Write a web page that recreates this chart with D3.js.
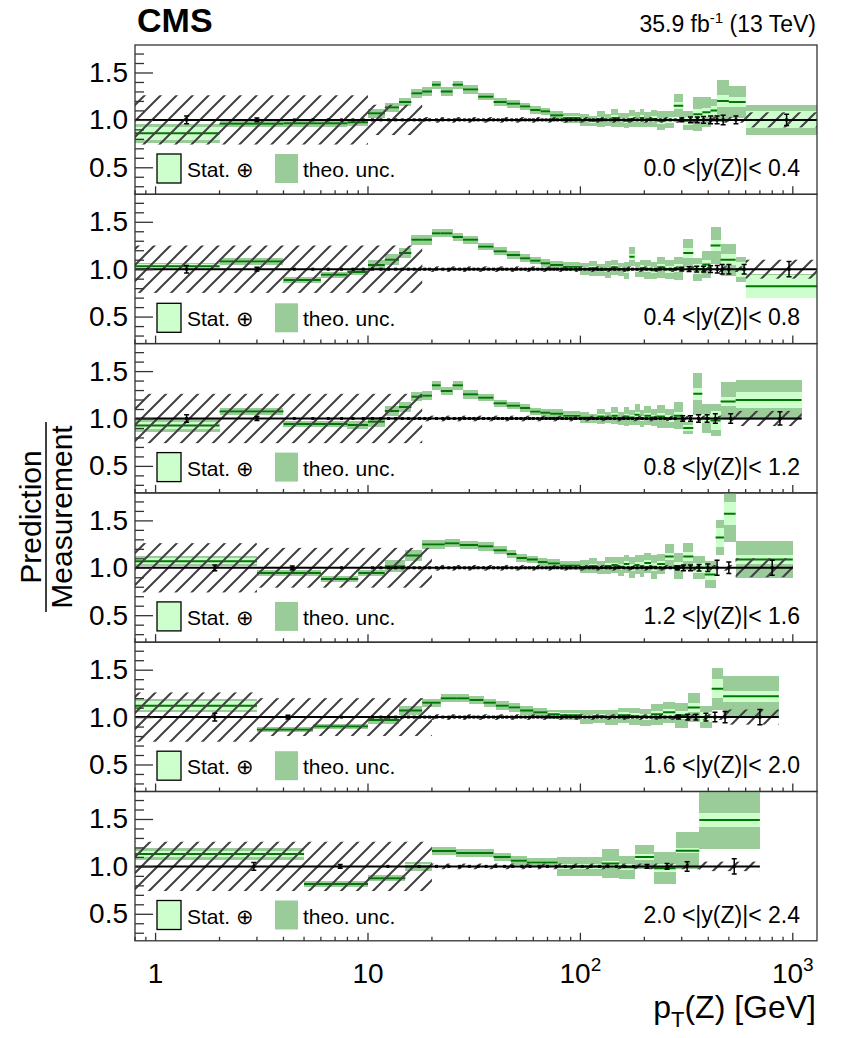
<!DOCTYPE html>
<html>
<head>
<meta charset="utf-8">
<script src="https://cdn.jsdelivr.net/npm/d3@7"></script>
<style>
body { margin: 0; background: #fff; }
svg { font-family: "Liberation Sans", Arial, Helvetica, sans-serif; }
</style>
</head>
<body>
<svg id="chart" width="849" height="1038"></svg>
<script>
// rapidity bins
var rapLabels = ["0.0 <|y(Z)|< 0.4", "0.4 <|y(Z)|< 0.8", "0.8 <|y(Z)|< 1.2",
                 "1.2 <|y(Z)|< 1.6", "1.6 <|y(Z)|< 2.0", "2.0 <|y(Z)|< 2.4"];
var ptMax = [1300, 1300, 1100, 1000, 860, 700];

// theory / measurement ratio, bin edges in GeV
var thEdges1 = [0.8, 2, 4, 8, 10, 12, 14, 16, 18, 20, 22, 25, 28, 33, 39, 45, 52, 58, 65, 72, 83, 100, 110, 120, 130, 140, 150, 160, 170, 180, 190, 200, 215, 230, 250, 275, 305, 340, 375, 410, 440, 500, 600, 1300];
var thVal1 = [0.86, 0.96, 0.965, 0.975, 1.07, 1.13, 1.19, 1.28, 1.30, 1.37,
              1.30, 1.37, 1.32, 1.245, 1.19, 1.17, 1.14, 1.105, 1.09, 1.05,
              1.02, 1.0, 0.99, 1.01, 1.0, 1.02, 1.0, 0.99, 1.01, 1.0,
              1.02, 1.0, 1.01, 0.99, 1.0, 1.15, 0.99, 1.06, 1.08, 1.1,
              1.2, 1.19, 1.0];
var thTot1 = [0.1, 0.035, 0.035, 0.035, 0.045, 0.045, 0.045, 0.045, 0.045, 0.045,
              0.045, 0.045, 0.045, 0.04, 0.04, 0.04, 0.04, 0.04, 0.04, 0.045,
              0.05, 0.06, 0.05, 0.08, 0.06, 0.09, 0.07, 0.08, 0.09, 0.08,
              0.1, 0.08, 0.09, 0.1, 0.09, 0.12, 0.1, 0.18, 0.16, 0.12,
              0.22, 0.17, 0.16];
var thStat1 = [0.07, 0.01, 0.01, 0.01, 0.01, 0.01, 0.01, 0.01, 0.01, 0.01,
               0.01, 0.01, 0.01, 0.01, 0.01, 0.01, 0.01, 0.01, 0.01, 0.01,
               0.02, 0.02, 0.02, 0.025, 0.02, 0.03, 0.02, 0.025, 0.03, 0.025,
               0.03, 0.025, 0.03, 0.03, 0.03, 0.04, 0.04, 0.05, 0.05, 0.05,
               0.06, 0.05, 0.09];

var thEdges2 = [0.8, 2, 4, 6, 8, 10, 12, 14, 16, 18, 20, 22, 25, 28, 33, 39, 45, 52, 58, 65, 72, 83, 100, 110, 120, 130, 140, 150, 160, 170, 180, 190, 200, 215, 230, 250, 275, 305, 340, 375, 410, 457, 538, 600, 1300];
var thVal2 = [1.03, 1.08, 0.887, 0.94, 0.97, 1.045, 1.10, 1.17, 1.31, 1.31,
              1.38, 1.38, 1.34, 1.31, 1.24, 1.19, 1.15, 1.115, 1.09, 1.063,
              1.045, 1.027, 1.0, 1.01, 0.99, 1.0, 1.02, 1.0, 0.99, 1.13,
              1.0, 1.01, 1.0, 0.99, 1.02, 1.0, 1.01, 1.17, 1.0, 1.05,
              1.25, 1.1, 1.0, 0.82];
var thTot2 = [0.035, 0.035, 0.03, 0.03, 0.035, 0.05, 0.06, 0.05, 0.05, 0.05,
              0.045, 0.045, 0.045, 0.045, 0.04, 0.04, 0.04, 0.04, 0.04, 0.04,
              0.045, 0.05, 0.06, 0.08, 0.06, 0.09, 0.08, 0.07, 0.09, 0.1,
              0.08, 0.09, 0.1, 0.09, 0.11, 0.1, 0.12, 0.15, 0.12, 0.14,
              0.2, 0.17, 0.13, 0.125];
var thStat2 = [0.025, 0.01, 0.01, 0.01, 0.01, 0.01, 0.01, 0.01, 0.01, 0.01,
               0.01, 0.01, 0.01, 0.01, 0.01, 0.01, 0.01, 0.01, 0.01, 0.01,
               0.01, 0.015, 0.02, 0.02, 0.02, 0.025, 0.02, 0.02, 0.025, 0.03,
               0.025, 0.03, 0.03, 0.03, 0.035, 0.035, 0.04, 0.05, 0.05, 0.05,
               0.06, 0.06, 0.08, 0.12];

var thEdges3 = [0.8, 2, 4, 8, 10, 12, 14, 16, 18, 20, 22, 25, 28, 33, 39, 45, 52, 58, 65, 72, 83, 100, 110, 120, 130, 140, 150, 160, 170, 180, 190, 200, 215, 230, 250, 275, 305, 340, 375, 410, 457, 538, 1100];
var thVal3 = [0.925, 1.073, 0.943, 0.93, 0.965, 1.08, 1.12, 1.23, 1.24, 1.35,
              1.29, 1.35, 1.255, 1.22, 1.16, 1.135, 1.11, 1.075, 1.06, 1.05,
              1.03, 1.01, 1.0, 1.02, 1.01, 1.03, 1.0, 1.02, 1.01, 1.04,
              1.0, 1.03, 1.01, 1.02, 1.0, 1.03, 0.9, 1.26, 1.0, 0.98,
              1.18, 1.195];
var thTot3 = [0.065, 0.04, 0.03, 0.04, 0.05, 0.05, 0.05, 0.045, 0.045, 0.045,
              0.045, 0.045, 0.045, 0.04, 0.04, 0.04, 0.04, 0.04, 0.04, 0.045,
              0.05, 0.06, 0.05, 0.08, 0.06, 0.09, 0.07, 0.1, 0.08, 0.11,
              0.09, 0.1, 0.09, 0.12, 0.1, 0.14, 0.06, 0.22, 0.15, 0.17,
              0.2, 0.21];
var thStat3 = [0.04, 0.01, 0.01, 0.01, 0.01, 0.01, 0.01, 0.01, 0.01, 0.01,
               0.01, 0.01, 0.01, 0.01, 0.01, 0.01, 0.01, 0.01, 0.01, 0.01,
               0.02, 0.02, 0.02, 0.025, 0.02, 0.03, 0.02, 0.03, 0.025, 0.03,
               0.03, 0.03, 0.03, 0.035, 0.035, 0.04, 0.03, 0.06, 0.05, 0.1,
               0.05, 0.08];

var thEdges4 = [0.8, 3, 6, 9, 12, 15, 18, 23, 27, 33, 39, 45, 50, 56, 63, 70, 80, 100, 110, 120, 130, 140, 150, 160, 170, 180, 190, 200, 215, 230, 250, 275, 305, 340, 385, 433, 474, 538, 1000];
var thVal4 = [1.07, 0.946, 0.883, 0.946, 1.017, 1.13, 1.245, 1.26, 1.24, 1.227,
              1.185, 1.146, 1.104, 1.087, 1.062, 1.044, 1.023, 1.01, 1.02, 1.0,
              1.02, 1.03, 1.01, 1.04, 1.0, 1.03, 1.02, 1.05, 1.01, 1.04,
              1.12, 1.02, 1.12, 1.0, 0.93, 1.32, 1.57, 1.087];
var thTot4 = [0.05, 0.03, 0.035, 0.035, 0.06, 0.06, 0.05, 0.045, 0.045, 0.045,
              0.04, 0.04, 0.04, 0.04, 0.04, 0.045, 0.045, 0.07, 0.08, 0.07,
              0.09, 0.08, 0.1, 0.09, 0.11, 0.1, 0.12, 0.11, 0.13, 0.11,
              0.13, 0.14, 0.14, 0.12, 0.14, 0.18, 0.3, 0.2];
var thStat4 = [0.03, 0.01, 0.01, 0.01, 0.01, 0.01, 0.01, 0.01, 0.01, 0.01,
               0.01, 0.01, 0.01, 0.01, 0.01, 0.01, 0.015, 0.02, 0.025, 0.02,
               0.03, 0.025, 0.03, 0.03, 0.035, 0.03, 0.04, 0.035, 0.04, 0.035,
               0.04, 0.045, 0.05, 0.05, 0.06, 0.1, 0.12, 0.05];

var thEdges5 = [0.8, 3, 5.5, 10, 14, 18, 22, 26, 30, 35, 40, 46, 52, 60, 70, 80, 100, 115, 130, 150, 170, 190, 215, 245, 280, 320, 365, 415, 470, 860];
var thVal5 = [1.12, 0.87, 0.9, 0.97, 1.07, 1.15, 1.2, 1.2, 1.18, 1.15,
              1.12, 1.1, 1.07, 1.05, 1.03, 1.02, 1.0, 1.01, 1.0, 1.02,
              1.01, 1.0, 1.03, 1.05, 1.02, 1.1, 1.0, 1.3, 1.22];
var thTot5 = [0.07, 0.03, 0.03, 0.04, 0.05, 0.045, 0.045, 0.045, 0.045, 0.045,
              0.045, 0.045, 0.045, 0.045, 0.05, 0.055, 0.07, 0.07, 0.08, 0.08,
              0.09, 0.09, 0.11, 0.11, 0.13, 0.15, 0.12, 0.22, 0.21];
var thStat5 = [0.05, 0.01, 0.01, 0.01, 0.01, 0.01, 0.01, 0.01, 0.01, 0.01,
               0.01, 0.01, 0.01, 0.01, 0.02, 0.02, 0.02, 0.025, 0.025, 0.03,
               0.03, 0.03, 0.035, 0.04, 0.04, 0.05, 0.05, 0.1, 0.06];

var thEdges6 = [0.8, 5, 10, 15, 20, 26, 39, 47, 56, 78, 126, 152, 181, 222, 281, 363, 700];
var thVal6 = [1.13, 0.815, 0.876, 1.0, 1.163, 1.14, 1.10, 1.06, 1.04, 1.0,
              1.03, 0.99, 1.1, 0.98, 1.166, 1.49];
var thTot6 = [0.06, 0.03, 0.035, 0.045, 0.04, 0.04, 0.045, 0.045, 0.05, 0.1,
              0.15, 0.12, 0.13, 0.17, 0.195, 0.31];
var thStat6 = [0.035, 0.01, 0.01, 0.02, 0.01, 0.01, 0.01, 0.01, 0.02, 0.03,
               0.03, 0.03, 0.03, 0.04, 0.025, 0.075];

// measurement uncertainty (hatched), bin edges and half widths
var hatchEdges1 = [0.8, 10, 18, 600, 1300], hatchHalf1 = [0.26, 0.16, 0.03, 0.08];
var hatchEdges2 = [0.8, 18, 600, 1300], hatchHalf2 = [0.25, 0.03, 0.1];
var hatchEdges3 = [0.8, 18, 538, 1100], hatchHalf3 = [0.26, 0.03, 0.08];
var hatchEdges4 = [0.8, 3, 20, 538, 1000], hatchHalf4 = [0.26, 0.21, 0.03, 0.1];
var hatchEdges5 = [0.8, 3, 20, 470, 860], hatchHalf5 = [0.26, 0.2, 0.03, 0.08];
var hatchEdges6 = [0.8, 20, 363, 700], hatchHalf6 = [0.26, 0.03, 0.05];

// measured points (ratio 1 by construction), pT positions and stat errors
var measLow1 = [1.4, 3, 4.5, 5.5, 6.5, 7.5, 8.5, 9.5], measLowErr1 = [0.04, 0.02, 0.01, 0.01, 0.01, 0.01, 0.01, 0.01];
var measLow2 = [1.4, 3, 4.5, 5.5, 6.5, 7.5, 8.5, 9.5], measLowErr2 = [0.04, 0.02, 0.01, 0.01, 0.01, 0.01, 0.01, 0.01];
var measLow3 = [1.4, 3, 4.5, 5.5, 6.5, 7.5, 8.5, 9.5], measLowErr3 = [0.04, 0.02, 0.01, 0.01, 0.01, 0.01, 0.01, 0.01];
var measLow4 = [1.9, 4.4, 7.5], measLowErr4 = [0.03, 0.02, 0.01];
var measLow5 = [1.9, 4.2, 7.5], measLowErr5 = [0.04, 0.02, 0.01];
var measLow6 = [2.9, 7.4, 12.4, 17.4], measLowErr6 = [0.04, 0.02, 0.01, 0.01];
var measMid = [10.5, 11.5, 12.5, 13.5, 14.5, 15.5, 16.5, 17.5, 18.5, 19.5, 21, 22.5, 24, 25.5, 27, 28.5, 30, 31.5, 33, 35, 37, 39, 41, 43, 45, 47.5, 50, 52.5, 55, 57.5, 60, 63, 66, 69, 72, 75, 78, 82, 86, 90, 95, 100, 105, 110, 115, 120, 126, 132, 138, 145, 152, 160, 168, 176, 185, 195, 205, 215, 226, 238, 250, 265, 280];
var measMid6 = [21, 24, 27, 30, 33, 36, 40, 44, 48, 53, 58, 64, 70, 77, 85, 93, 102, 112, 123, 135, 148, 162, 178];
var midErr = 0.008;
var measHi1 = [300, 330, 355, 380, 410, 440, 470, 540, 935], measHiErr1 = [0.02, 0.03, 0.03, 0.035, 0.04, 0.04, 0.05, 0.04, 0.06];
var measHi2 = [300, 325, 353, 380, 410, 441, 465, 500, 590, 960], measHiErr2 = [0.02, 0.025, 0.03, 0.03, 0.035, 0.04, 0.05, 0.05, 0.05, 0.08];
var measHi3 = [303, 330, 360, 395, 432, 510, 870], measHiErr3 = [0.03, 0.03, 0.04, 0.04, 0.05, 0.05, 0.07];
var measHi4 = [286, 306, 330, 362, 398, 440, 500, 800], measHiErr4 = [0.02, 0.03, 0.03, 0.035, 0.04, 0.08, 0.06, 0.08];
var measHi5 = [290, 320, 350, 390, 430, 480, 700], measHiErr5 = [0.02, 0.03, 0.03, 0.04, 0.05, 0.06, 0.08];
var measHi6 = [206, 256, 318, 530], measHiErr6 = [0.02, 0.03, 0.05, 0.08];

var yTicksMajor = [0.5, 1.0, 1.5];
var yTicksMinor = [0.3, 0.4, 0.6, 0.7, 0.8, 0.9, 1.1, 1.2, 1.3, 1.4, 1.6, 1.7];
var xLabels = [{v: 1, base: "1", exp: ""}, {v: 10, base: "10", exp: ""},
               {v: 100, base: "10", exp: "2"}, {v: 1000, base: "10", exp: "3"}];

var panels = [
  {th: [thEdges1, thVal1, thStat1, thTot1], hatch: [hatchEdges1, hatchHalf1], low: [measLow1, measLowErr1], mid: measMid, hi: [measHi1, measHiErr1]},
  {th: [thEdges2, thVal2, thStat2, thTot2], hatch: [hatchEdges2, hatchHalf2], low: [measLow2, measLowErr2], mid: measMid, hi: [measHi2, measHiErr2]},
  {th: [thEdges3, thVal3, thStat3, thTot3], hatch: [hatchEdges3, hatchHalf3], low: [measLow3, measLowErr3], mid: measMid, hi: [measHi3, measHiErr3]},
  {th: [thEdges4, thVal4, thStat4, thTot4], hatch: [hatchEdges4, hatchHalf4], low: [measLow4, measLowErr4], mid: measMid, hi: [measHi4, measHiErr4]},
  {th: [thEdges5, thVal5, thStat5, thTot5], hatch: [hatchEdges5, hatchHalf5], low: [measLow5, measLowErr5], mid: measMid, hi: [measHi5, measHiErr5]},
  {th: [thEdges6, thVal6, thStat6, thTot6], hatch: [hatchEdges6, hatchHalf6], low: [measLow6, measLowErr6], mid: measMid6, hi: [measHi6, measHiErr6]}
];

var left = 135, right = 817, top0 = 45, panelH = 149.3;
var colTot = "#99cc99", colStat = "#ccffcc", colLine = "#007700";

var x = d3.scaleLog().domain([0.8, 1300]).range([left, right]);
var svg = d3.select("#chart");
var defs = svg.append("defs");

var pat = defs.append("pattern")
  .attr("id", "hatch")
  .attr("patternUnits", "userSpaceOnUse")
  .attr("width", 16).attr("height", 16);
pat.append("path")
  .attr("d", "M-4,4 L4,-4 M0,16 L16,0 M12,20 L20,12")
  .attr("stroke", "#404040")
  .attr("stroke-width", 2);

panels.forEach(function(p, i) { drawPanel(p, i); });

function drawPanel(p, i) {
  var top = top0 + i * panelH, bottom = top + panelH;
  var y = d3.scaleLinear().domain([0.215, 1.79]).range([bottom, top]);

  defs.append("clipPath").attr("id", "clip" + i)
    .append("rect").attr("x", left).attr("y", top)
    .attr("width", right - left).attr("height", panelH);
  var g = svg.append("g").attr("clip-path", "url(#clip" + i + ")");

  var bins = p.th[1].map(function(v, j) {
    return {x0: p.th[0][j], x1: p.th[0][j + 1], v: v, s: p.th[2][j], t: p.th[3][j]};
  });

  // stat (+) theory band
  g.selectAll(".tot").data(bins).enter().append("rect")
    .attr("class", "tot")
    .attr("x", function(d) { return x(d.x0); })
    .attr("width", function(d) { return x(d.x1) - x(d.x0); })
    .attr("y", function(d) { return y(d.v + d.t); })
    .attr("height", function(d) { return y(d.v - d.t) - y(d.v + d.t); })
    .attr("fill", colTot)
    .attr("shape-rendering", "crispEdges");

  g.selectAll(".stat").data(bins).enter().append("rect")
    .attr("class", "stat")
    .attr("x", function(d) { return x(d.x0); })
    .attr("width", function(d) { return x(d.x1) - x(d.x0); })
    .attr("y", function(d) { return y(d.v + d.s); })
    .attr("height", function(d) { return y(d.v - d.s) - y(d.v + d.s); })
    .attr("fill", colStat)
    .attr("shape-rendering", "crispEdges");

  g.selectAll(".cv").data(bins).enter().append("line")
    .attr("x1", function(d) { return x(d.x0); })
    .attr("x2", function(d) { return x(d.x1); })
    .attr("y1", function(d) { return y(d.v); })
    .attr("y2", function(d) { return y(d.v); })
    .attr("stroke", colLine)
    .attr("stroke-width", 2);

  // measurement uncertainty, hatched
  var hb = p.hatch[1].map(function(h, j) { return {x0: p.hatch[0][j], x1: p.hatch[0][j + 1], h: h}; });
  g.selectAll(".hatch").data(hb).enter().append("rect")
    .attr("x", function(d) { return x(d.x0); })
    .attr("width", function(d) { return x(d.x1) - x(d.x0); })
    .attr("y", function(d) { return y(1 + d.h); })
    .attr("height", function(d) { return y(1 - d.h) - y(1 + d.h); })
    .attr("fill", "url(#hatch)");

  g.append("line")
    .attr("x1", x(0.8)).attr("x2", x(ptMax[i]))
    .attr("y1", y(1)).attr("y2", y(1))
    .attr("stroke", "#000").attr("stroke-width", 2);

  // measured points
  var pts = [];
  p.low[0].forEach(function(v, j) { pts.push({pt: v, e: p.low[1][j]}); });
  p.mid.forEach(function(v) { pts.push({pt: v, e: midErr}); });
  p.hi[0].forEach(function(v, j) { pts.push({pt: v, e: p.hi[1][j]}); });

  var pg = g.selectAll(".pt").data(pts).enter().append("g");
  pg.append("line")
    .attr("x1", function(d) { return x(d.pt); })
    .attr("x2", function(d) { return x(d.pt); })
    .attr("y1", function(d) { return y(1 - d.e); })
    .attr("y2", function(d) { return y(1 + d.e); })
    .attr("stroke", "#000").attr("stroke-width", 1.5);
  pg.filter(function(d) { return d.e > 0.015; }).selectAll(".cap")
    .data(function(d) { return [d.e, -d.e].map(function(e) { return {pt: d.pt, e: e}; }); })
    .enter().append("line")
    .attr("x1", function(d) { return x(d.pt) - 2.5; })
    .attr("x2", function(d) { return x(d.pt) + 2.5; })
    .attr("y1", function(d) { return y(1 + d.e); })
    .attr("y2", function(d) { return y(1 + d.e); })
    .attr("stroke", "#000").attr("stroke-width", 1.5);
  pg.append("rect")
    .attr("x", function(d) { return x(d.pt) - 1.5; })
    .attr("y", y(1) - 1.5)
    .attr("width", 3).attr("height", 3)
    .attr("fill", "#000");

  // frame
  svg.append("rect")
    .attr("x", left).attr("y", top)
    .attr("width", right - left).attr("height", panelH)
    .attr("fill", "none").attr("stroke", "#333").attr("stroke-width", 1.3);

  // y axis
  var ya = svg.append("g").attr("transform", "translate(" + left + ",0)")
    .call(d3.axisLeft(y).tickValues(yTicksMajor).tickSizeInner(-18).tickSizeOuter(0)
      .tickPadding(7).tickFormat(d3.format(".1f")));
  ya.select(".domain").remove();
  ya.selectAll("line").attr("stroke", "#333").attr("stroke-width", 1.3);
  ya.selectAll("text").attr("font-size", 28).attr("fill", "#000")
    .attr("font-family", "Liberation Sans, Arial, sans-serif");
  var ym = svg.append("g").attr("transform", "translate(" + left + ",0)")
    .call(d3.axisLeft(y).tickValues(yTicksMinor).tickSizeInner(-9).tickSizeOuter(0).tickFormat(""));
  ym.select(".domain").remove();
  ym.selectAll("line").attr("stroke", "#333").attr("stroke-width", 1.3);

  // x ticks pointing up
  var xt = x.ticks().filter(function(t) { return t >= 0.8 && t <= 1300; });
  svg.append("g").selectAll("line").data(xt).enter().append("line")
    .attr("x1", function(d) { return x(d); })
    .attr("x2", function(d) { return x(d); })
    .attr("y1", bottom)
    .attr("y2", function(d) { return bottom - (isDecade(d) ? 8 : 4); })
    .attr("stroke", "#333").attr("stroke-width", 1.3);

  // legend
  var lg = svg.append("g").attr("transform", "translate(0," + top + ")");
  lg.append("rect").attr("x", 157).attr("y", 109).attr("width", 24).attr("height", 29)
    .attr("fill", colStat).attr("stroke", "#000").attr("stroke-width", 1.3);
  lg.append("text").attr("x", 187).attr("y", 132).attr("font-size", 21).text("Stat. \u2295");
  lg.append("rect").attr("x", 275).attr("y", 109).attr("width", 23).attr("height", 29)
    .attr("fill", colTot);
  lg.append("text").attr("x", 303).attr("y", 132).attr("font-size", 21).text("theo. unc.");

  lg.append("text").attr("x", 800).attr("y", 131).attr("font-size", 23)
    .attr("text-anchor", "end").text(rapLabels[i]);
}

function isDecade(v) {
  var l = Math.log10(v);
  return Math.abs(l - Math.round(l)) < 1e-6;
}

// x tick labels
var xl = svg.append("g").selectAll("text").data(xLabels).enter().append("text")
  .attr("x", function(d) { return x(d.v); })
  .attr("y", 983)
  .attr("font-size", 28)
  .attr("text-anchor", "middle");
xl.append("tspan").text(function(d) { return d.base; });
xl.append("tspan").attr("dy", -12).attr("font-size", 19).text(function(d) { return d.exp; });

// x title
var xtitle = svg.append("text").attr("x", 816).attr("y", 1018)
  .attr("font-size", 32).attr("text-anchor", "end");
xtitle.append("tspan").text("p");
xtitle.append("tspan").attr("dy", 9).attr("font-size", 22).text("T");
xtitle.append("tspan").attr("dy", -9).text("(Z) [GeV]");

// y title
var yt = svg.append("g").attr("transform", "translate(46,517) rotate(-90)");
yt.append("text").attr("x", 0).attr("y", -5).attr("font-size", 30)
  .attr("text-anchor", "middle").text("Prediction");
yt.append("line").attr("x1", -95).attr("x2", 95).attr("y1", 0).attr("y2", 0)
  .attr("stroke", "#000").attr("stroke-width", 1.5);
yt.append("text").attr("x", 0).attr("y", 26).attr("font-size", 30)
  .attr("text-anchor", "middle").text("Measurement");

// header
svg.append("text").attr("x", 137).attr("y", 32).attr("font-size", 34)
  .attr("font-weight", "bold").text("CMS");
var lumi = svg.append("text").attr("x", 816).attr("y", 32).attr("font-size", 23)
  .attr("text-anchor", "end");
lumi.append("tspan").text("35.9 fb");
lumi.append("tspan").attr("dy", -9).attr("font-size", 15).text("-1");
lumi.append("tspan").attr("dy", 9).text(" (13 TeV)");
</script>
</body>
</html>
